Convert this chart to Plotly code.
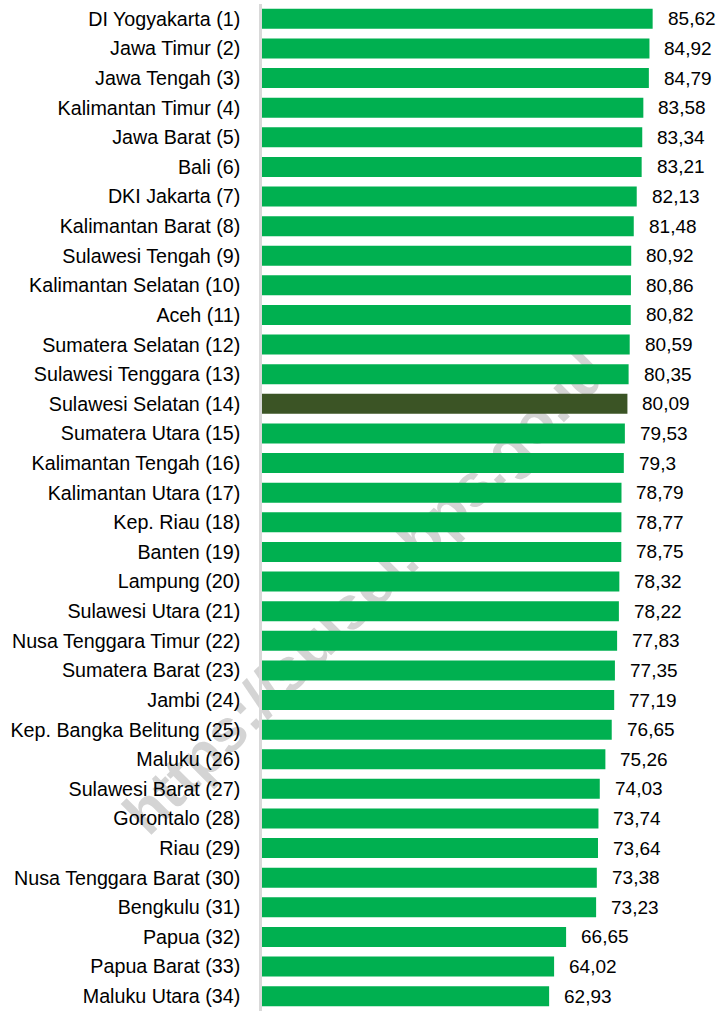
import plotly.graph_objects as go

# Provinces ranked by index value
provinces = [
    "DI Yogyakarta (1)", "Jawa Timur (2)", "Jawa Tengah (3)", "Kalimantan Timur (4)",
    "Jawa Barat (5)", "Bali (6)", "DKI Jakarta (7)", "Kalimantan Barat (8)",
    "Sulawesi Tengah (9)", "Kalimantan Selatan (10)", "Aceh (11)", "Sumatera Selatan (12)",
    "Sulawesi Tenggara (13)", "Sulawesi Selatan (14)", "Sumatera Utara (15)",
    "Kalimantan Tengah (16)", "Kalimantan Utara (17)", "Kep. Riau (18)", "Banten (19)",
    "Lampung (20)", "Sulawesi Utara (21)", "Nusa Tenggara Timur (22)",
    "Sumatera Barat (23)", "Jambi (24)", "Kep. Bangka Belitung (25)", "Maluku (26)",
    "Sulawesi Barat (27)", "Gorontalo (28)", "Riau (29)", "Nusa Tenggara Barat (30)",
    "Bengkulu (31)", "Papua (32)", "Papua Barat (33)", "Maluku Utara (34)",
]
values = [
    85.62, 84.92, 84.79, 83.58, 83.34, 83.21, 82.13, 81.48, 80.92, 80.86, 80.82,
    80.59, 80.35, 80.09, 79.53, 79.3, 78.79, 78.77, 78.75, 78.32, 78.22, 77.83,
    77.35, 77.19, 76.65, 75.26, 74.03, 73.74, 73.64, 73.38, 73.23, 66.65, 64.02,
    62.93,
]
highlight = "Sulawesi Selatan (14)"

GREEN = "#00B050"
DARK = "#3B5425"
FONT = "Liberation Sans, Arial, sans-serif"

colors = [DARK if p == highlight else GREEN for p in provinces]

fig = go.Figure(
    go.Bar(
        x=values,
        y=provinces,
        orientation="h",
        marker=dict(color=colors, line=dict(width=0)),
        hoverinfo="skip",
    )
)

# value labels with decimal comma
for p, v in zip(provinces, values):
    fig.add_annotation(
        x=v, y=p, xref="x", yref="y",
        text=str(v).replace(".", ","),
        showarrow=False, xanchor="left", yanchor="middle",
        xshift=13,
        font=dict(family=FONT, size=19, color="#000000"),
    )

# diagonal watermark behind the bars
fig.add_shape(
    type="rect", xref="paper", yref="paper",
    x0=0.18, x1=0.25, y0=0.40, y1=0.44,
    line=dict(width=0), fillcolor="rgba(0,0,0,0)",
    layer="below",
    label=dict(
        text="https://sulsel.bps.go.id",
        textangle=-45,
        textposition="middle center",
        font=dict(family=FONT, size=60, color="#d4d4d4", weight="bold"),
    ),
)

fig.update_layout(
    width=721,
    height=1011,
    margin=dict(l=262, r=0, t=4, b=0, autoexpand=False),
    paper_bgcolor="white",
    plot_bgcolor="white",
    bargap=0.325,
    showlegend=False,
    xaxis=dict(
        range=[0, 100.6], visible=False, showgrid=False, zeroline=False,
    ),
    yaxis=dict(
        autorange="reversed", automargin=False,
        showgrid=False, zeroline=False,
        showline=True, linecolor="#d9d9d9", linewidth=2.5,
        ticks="", ticklabelstandoff=15,
        tickfont=dict(family=FONT, size=19.7, color="#000000"),
    ),
)

fig.write_html("out.html")
